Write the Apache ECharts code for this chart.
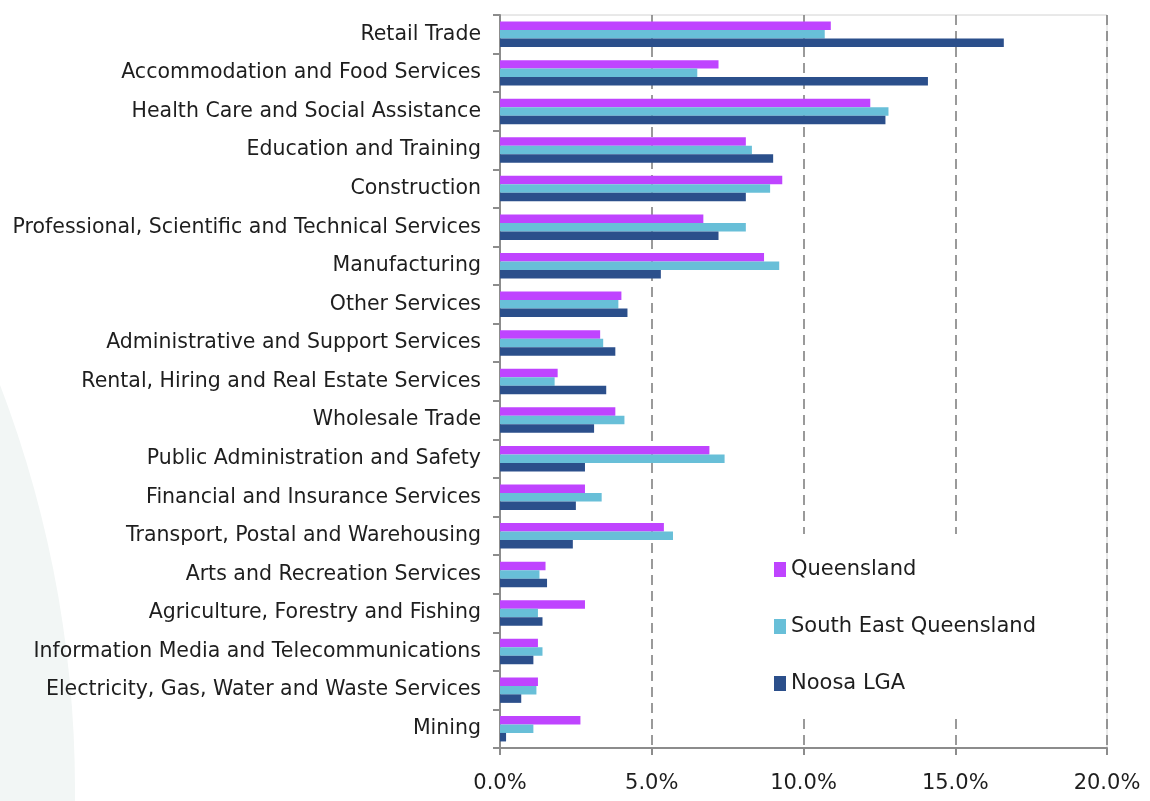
<!doctype html>
<html>
    <head>
        <meta charset="utf-8">
        <title>Industry of employment</title>
        <style>
            html, body { margin: 0; padding: 0; background: #fff; }
            #main { width: 1150px; height: 801px; }
        </style>
    </head>
    <body>
        <div id="main"></div>
        <script src="https://cdn.jsdelivr.net/npm/echarts@6/dist/echarts.min.js"></script>
        <script>
            var industries = [
                'Retail Trade',
                'Accommodation and Food Services',
                'Health Care and Social Assistance',
                'Education and Training',
                'Construction',
                'Professional, Scientific and Technical Services',
                'Manufacturing',
                'Other Services',
                'Administrative and Support Services',
                'Rental, Hiring and Real Estate Services',
                'Wholesale Trade',
                'Public Administration and Safety',
                'Financial and Insurance Services',
                'Transport, Postal and Warehousing',
                'Arts and Recreation Services',
                'Agriculture, Forestry and Fishing',
                'Information Media and Telecommunications',
                'Electricity, Gas, Water and Waste Services',
                'Mining'
            ];
            var queensland = [10.9, 7.2, 12.2, 8.1, 9.3, 6.7, 8.7, 4.0, 3.3, 1.9, 3.8, 6.9, 2.8, 5.4, 1.5, 2.8, 1.25, 1.25, 2.65];
            var southEastQld = [10.7, 6.5, 12.8, 8.3, 8.9, 8.1, 9.2, 3.9, 3.4, 1.8, 4.1, 7.4, 3.35, 5.7, 1.3, 1.25, 1.4, 1.2, 1.1];
            var noosa = [16.6, 14.1, 12.7, 9.0, 8.1, 7.2, 5.3, 4.2, 3.8, 3.5, 3.1, 2.8, 2.5, 2.4, 1.55, 1.4, 1.1, 0.7, 0.2];

            var fontFamily = '"DejaVu Sans", Verdana, sans-serif';
            var textColor = '#1e1e1e';
            var axisGrey = '#8c8c8c';

            var chart = echarts.init(document.getElementById('main'), null, {
                renderer: 'canvas',
                devicePixelRatio: 1
            });

            function barSeries(name, data, color) {
                return {
                    name: name,
                    type: 'bar',
                    data: data,
                    barGap: '0%',
                    barCategoryGap: '34%',
                    itemStyle: { color: color },
                    emphasis: { disabled: true },
                    animation: false
                };
            }

            chart.setOption({
                animation: false,
                textStyle: { fontFamily: fontFamily },
                graphic: [{
                    type: 'circle',
                    z: -10,
                    silent: true,
                    shape: { cx: -1056, cy: 790, r: 1131 },
                    style: { fill: '#f2f6f5' }
                }],
                grid: {
                    left: 500,
                    right: 43,
                    top: 15,
                    bottom: 53,
                    show: true,
                    borderColor: '#d2d2d2',
                    borderWidth: 1,
                    backgroundColor: '#ffffff',
                    containLabel: false
                },
                legend: {
                    orient: 'vertical',
                    left: 760,
                    top: 534,
                    padding: [25, 20, 22, 14],
                    backgroundColor: '#ffffff',
                    itemWidth: 12,
                    itemHeight: 15,
                    itemGap: 36,
                    icon: 'rect',
                    textStyle: {
                        fontFamily: fontFamily,
                        fontSize: 21,
                        color: textColor
                    },
                    data: ['Queensland', 'South East Queensland', 'Noosa LGA']
                },
                xAxis: {
                    type: 'value',
                    min: 0,
                    max: 20,
                    interval: 5,
                    axisLine: { show: true, lineStyle: { color: axisGrey, width: 2 } },
                    axisTick: { show: true, length: 7, lineStyle: { color: axisGrey, width: 2 } },
                    axisLabel: {
                        margin: 25,
                        fontSize: 21,
                        color: textColor,
                        fontFamily: fontFamily,
                        formatter: function (v) { return v.toFixed(1) + '%'; }
                    },
                    splitLine: {
                        show: true,
                        lineStyle: { color: '#7a7a7a', width: 1.5, type: [10, 6] }
                    }
                },
                yAxis: {
                    type: 'category',
                    inverse: true,
                    data: industries,
                    axisLine: { show: true, lineStyle: { color: axisGrey, width: 2 } },
                    axisTick: { show: true, length: 7, lineStyle: { color: axisGrey, width: 2 } },
                    axisLabel: {
                        margin: 19,
                        fontSize: 20.5,
                        color: textColor,
                        fontFamily: fontFamily
                    },
                    splitLine: { show: false }
                },
                series: [
                    barSeries('Queensland', queensland, '#bf44ff'),
                    barSeries('South East Queensland', southEastQld, '#68bfd8'),
                    barSeries('Noosa LGA', noosa, '#2b4f8b')
                ]
            });

            window.onresize = chart.resize;
        </script>
    </body>
</html>
